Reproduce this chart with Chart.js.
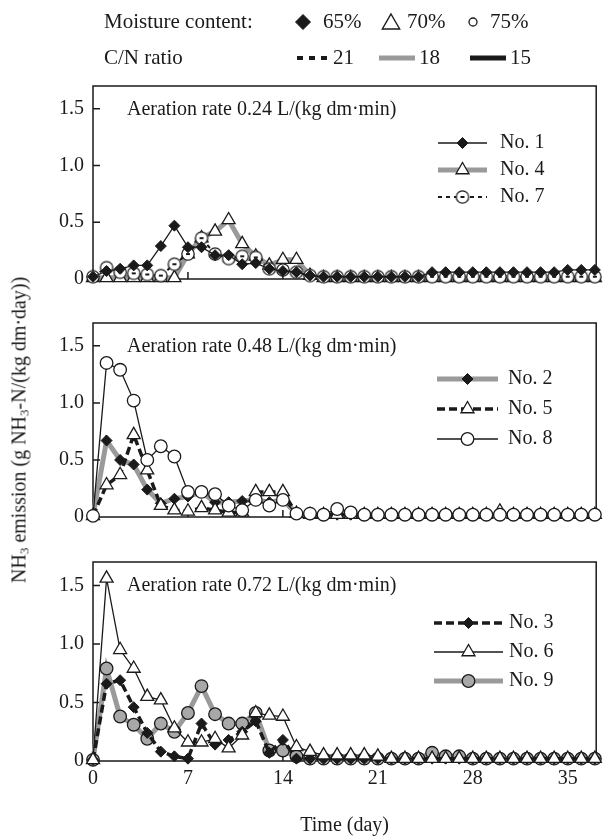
<!DOCTYPE html>
<html>
<head>
<meta charset="utf-8">
<title>NH3 emission</title>
<script src="https://cdn.jsdelivr.net/npm/chart.js@4.4.1/dist/chart.umd.min.js"></script>
<style>
  body { margin: 0; background: #fff; }
  #wrap { position: relative; width: 605px; height: 840px; overflow: hidden; }
  #wrap canvas { position: absolute; left: 0; }
  #ytitle {
    position: absolute; left: 20px; top: 430px;
    transform: translate(-50%, -50%) rotate(-90deg);
    white-space: nowrap;
    font: 20px "Liberation Serif", "Times New Roman", serif;
    color: #1a1a1a;
  }
  #ytitle sub { font-size: 13px; vertical-align: -3px; }
</style>
</head>
<body>
<div id="wrap">
  <canvas id="p1" width="605" height="300" style="top:0"></canvas>
  <canvas id="p2" width="605" height="240" style="top:300px"></canvas>
  <canvas id="p3" width="605" height="300" style="top:540px"></canvas>
  <div id="ytitle">NH<sub>3</sub> emission (g NH<sub>3</sub>-N/(kg dm·day))</div>
</div>
<script>
// days of composting (one reading per day)
const days = [0,1,2,3,4,5,6,7,8,9,10,11,12,13,14,15,16,17,18,19,
              20,21,22,23,24,25,26,27,28,29,30,31,32,33,34,35,36,37];

const xTicks = [0, 7, 14, 21, 28, 35];
const xTickLabels = ['0', '7', '14', '21', '28', '35'];
const yTicks = [0, 0.5, 1.0, 1.5];
const yTickLabels = ['0', '0.5', '1.0', '1.5'];

const panelTitles = [
  'Aeration rate 0.24 L/(kg dm·min)',
  'Aeration rate 0.48 L/(kg dm·min)',
  'Aeration rate 0.72 L/(kg dm·min)'
];

// aeration 0.24
const no1 = [0.02,0.07,0.09,0.12,0.12,0.29,0.47,0.28,0.28,0.21,0.21,0.13,0.14,0.09,0.07,0.06,0.03,
             0.02,0.02,0.02,0.02,0.02,0.02,0.02,0.02,
             0.06,0.06,0.06,0.06,0.06,0.06,0.06,0.06,0.06,0.06,0.08,0.08,0.08];
const no4 = [0.01,0.01,0.01,0.01,0.01,0.01,0.01,0.22,0.36,0.42,0.52,0.31,0.20,0.12,0.17,0.17,0.03,
             0.01,0.01,0.01,0.01,0.01,0.01,0.01,0.01,0.01,0.01,0.01,0.01,0.01,0.01,0.01,0.01,0.01,0.01,0.01,0.01,0.01];
const no7 = [0.02,0.10,0.06,0.05,0.04,0.03,0.13,0.22,0.36,0.22,0.18,0.20,0.19,0.09,0.08,0.06,0.03,
             0.02,0.02,0.02,0.02,0.02,0.02,0.02,0.02,0.02,0.02,0.02,0.02,0.02,0.02,0.02,0.02,0.02,0.02,0.02,0.02,0.02];

// aeration 0.48
const no2 = [0.01,0.67,0.50,0.46,0.24,0.12,0.16,0.18,0.22,0.13,0.13,0.14,0.15,0.13,0.15,0.03,
             0.02,0.02,0.02,0.02,0.02,0.02,0.02,0.02,0.02,0.02,0.02,0.02,0.02,0.02,0.02,0.02,0.02,0.02,0.02,0.02,0.02,0.02];
const no5 = [0.01,0.28,0.37,0.72,0.41,0.10,0.06,0.05,0.08,0.06,0.04,0.04,0.22,0.22,0.22,0.03,
             0.02,0.02,0.02,0.02,0.02,0.02,0.02,0.02,0.02,0.02,0.02,0.02,0.02,0.02,0.05,
             0.02,0.02,0.02,0.02,0.02,0.02,0.02];
const no8 = [0.01,1.35,1.29,1.02,0.50,0.62,0.53,0.22,0.22,0.20,0.10,0.06,0.15,0.10,0.15,0.03,0.03,0.02,0.07,0.04,
             0.02,0.02,0.02,0.02,0.02,0.02,0.02,0.02,0.02,0.02,0.02,0.02,0.02,0.02,0.02,0.02,0.02,0.02];

// aeration 0.72
const no3 = [0.01,0.66,0.69,0.46,0.24,0.08,0.04,0.02,0.32,0.14,0.18,0.25,0.34,0.07,0.18,0.02,
             0.02,0.02,0.02,0.02,0.02,0.02,0.02,0.02,0.02,0.02,0.02,0.02,0.02,0.02,0.02,0.02,0.02,0.02,0.02,0.02,0.02,0.02];
const no6 = [0.01,1.56,0.95,0.79,0.55,0.52,0.28,0.16,0.16,0.19,0.11,0.22,0.41,0.39,0.38,0.12,0.08,0.05,0.05,0.05,0.05,0.04,
             0.02,0.02,0.02,0.02,0.02,0.02,0.02,0.02,0.02,0.02,0.02,0.02,0.02,0.02,0.02,0.02];
const no9 = [0.01,0.79,0.38,0.31,0.19,0.32,0.25,0.41,0.64,0.40,0.32,0.32,0.41,0.09,0.09,0.04,
             0.02,0.02,0.02,0.02,0.02,0.02,0.02,0.02,0.02,0.07,0.04,0.04,
             0.02,0.02,0.02,0.02,0.02,0.02,0.02,0.02,0.02,0.02];

const SERIF = '"Liberation Serif", "Times New Roman", serif';
const INK = '#1a1a1a';
const GRAY = '#9a9a9a';

// circle with a little bar in the middle (No. 7)
function dotCircle() {
    const c = document.createElement('canvas');
    c.width = 16; c.height = 16;
    const g = c.getContext('2d');
    g.beginPath();
    g.arc(8, 8, 6.2, 0, Math.PI * 2);
    g.fillStyle = '#fff'; g.fill();
    g.lineWidth = 1.3; g.strokeStyle = INK; g.stroke();
    g.fillStyle = INK;
    g.fillRect(6, 7, 4, 2);
    return c;
}

const lines = {
    thin:     {borderColor: INK,  borderWidth: 1.3},
    gray:     {borderColor: GRAY, borderWidth: 5},
    dashBold: {borderColor: INK,  borderWidth: 3.5, borderDash: [8, 4]},
    dashThin: {borderColor: INK,  borderWidth: 2,   borderDash: [4, 4]}
};
const marks = {
    diamond:  {pointStyle: 'rectRot',  pointRadius: 5.5, pointBackgroundColor: INK,    pointBorderColor: INK, pointBorderWidth: 1},
    triangle: {pointStyle: 'triangle', pointRadius: 7.5, pointBackgroundColor: '#fff', pointBorderColor: INK, pointBorderWidth: 1.3},
    circle:   {pointStyle: 'circle',   pointRadius: 6.3, pointBackgroundColor: '#fff', pointBorderColor: INK, pointBorderWidth: 1.3},
    grayDot:  {pointStyle: 'circle',   pointRadius: 6.3, pointBackgroundColor: '#a8a8a8', pointBorderColor: INK, pointBorderWidth: 1.3},
    barDot:   {pointStyle: dotCircle(), pointRadius: 6.3, pointBackgroundColor: '#fff', pointBorderColor: INK, pointBorderWidth: 1.3}
};

function series(label, values, line, mark, order) {
    return Object.assign({
        label: label,
        order: order,
        data: values.map((v, i) => ({x: days[i], y: v})),
        tension: 0,
        clip: false
    }, line, mark);
}

function drawMarker(ctx, style, x, y, r, fill, stroke, lw) {
    if (typeof style !== 'string') {
        ctx.drawImage(style, x - style.width / 2, y - style.height / 2);
        return;
    }
    ctx.beginPath();
    if (style === 'rectRot') {
        ctx.moveTo(x, y - r); ctx.lineTo(x + r, y); ctx.lineTo(x, y + r); ctx.lineTo(x - r, y);
    } else if (style === 'triangle') {
        ctx.moveTo(x, y - r);
        ctx.lineTo(x + 0.866 * r, y + 0.5 * r);
        ctx.lineTo(x - 0.866 * r, y + 0.5 * r);
    } else {
        ctx.arc(x, y, r, 0, Math.PI * 2);
    }
    ctx.closePath();
    ctx.fillStyle = fill; ctx.fill();
    ctx.lineWidth = lw; ctx.strokeStyle = stroke; ctx.setLineDash([]); ctx.stroke();
}

// moisture content / C/N ratio key at the top of the figure
function drawHeader(ctx) {
    ctx.save();
    ctx.font = '21px ' + SERIF;
    ctx.textBaseline = 'middle';
    ctx.fillStyle = INK;
    const r1 = 22, r2 = 58;
    ctx.fillText('Moisture content:', 104, r1);
    drawMarker(ctx, 'rectRot', 303, r1, 7.5, INK, INK, 1);
    ctx.fillStyle = INK; ctx.fillText('65%', 323, r1);
    drawMarker(ctx, 'triangle', 391, r1 + 2, 10, '#fff', INK, 1.4);
    ctx.fillStyle = INK; ctx.fillText('70%', 407, r1);
    drawMarker(ctx, 'circle', 473, r1, 4, '#fff', INK, 1.3);
    ctx.fillStyle = INK; ctx.fillText('75%', 490, r1);

    ctx.fillText('C/N ratio', 104, r2);
    ctx.lineWidth = 4; ctx.strokeStyle = INK; ctx.setLineDash([6, 6]);
    ctx.beginPath(); ctx.moveTo(297, r2); ctx.lineTo(329, r2); ctx.stroke();
    ctx.setLineDash([]);
    ctx.fillText('21', 333, r2);
    ctx.lineWidth = 5; ctx.strokeStyle = GRAY;
    ctx.beginPath(); ctx.moveTo(379, r2); ctx.lineTo(415, r2); ctx.stroke();
    ctx.fillText('18', 419, r2);
    ctx.strokeStyle = INK;
    ctx.beginPath(); ctx.moveTo(470, r2); ctx.lineTo(506, r2); ctx.stroke();
    ctx.fillText('15', 510, r2);
    ctx.restore();
}

const panelDeco = {
    id: 'panelDeco',
    beforeDatasetsDraw(chart, args, opts) {
        const {ctx, chartArea: a, scales: {x, y}} = chart;
        ctx.save();
        ctx.strokeStyle = INK;
        ctx.lineWidth = 1.5;
        ctx.strokeRect(a.left, a.top, a.right - a.left, a.bottom - a.top);
        ctx.beginPath();
        yTicks.forEach(v => {
            const py = y.getPixelForValue(v);
            ctx.moveTo(a.left, py); ctx.lineTo(a.left + 7, py);
        });
        xTicks.forEach(v => {
            const px = x.getPixelForValue(v);
            ctx.moveTo(px, a.bottom); ctx.lineTo(px, a.bottom - 7);
        });
        ctx.stroke();
        ctx.restore();
    },
    afterDraw(chart, args, opts) {
        const {ctx, chartArea: a} = chart;
        ctx.save();
        ctx.font = '20px ' + SERIF;
        ctx.textBaseline = 'middle';
        ctx.fillStyle = INK;
        ctx.fillText(opts.title, 127, a.top + 24);
        chart.data.datasets.forEach((ds, i) => {
            const ly = a.top + opts.legendY + i * opts.legendDy;
            ctx.beginPath();
            ctx.strokeStyle = ds.borderColor;
            ctx.lineWidth = ds.borderWidth;
            ctx.setLineDash(ds.borderDash || []);
            ctx.moveTo(opts.lx0, ly); ctx.lineTo(opts.lx1, ly);
            ctx.stroke();
            ctx.setLineDash([]);
            drawMarker(ctx, ds.pointStyle, (opts.lx0 + opts.lx1) / 2, ly, ds.pointRadius,
                       ds.pointBackgroundColor, ds.pointBorderColor, ds.pointBorderWidth);
            ctx.fillStyle = INK;
            ctx.fillText(ds.label, opts.tx, ly);
        });
        if (opts.header) drawHeader(ctx);
        ctx.restore();
    }
};

function makePanel(id, datasets, deco, showX, pad) {
    return new Chart(document.getElementById(id), {
        type: 'line',
        data: {datasets: datasets},
        options: {
            responsive: false,
            animation: false,
            layout: {padding: pad},
            plugins: {
                legend: {display: false},
                tooltip: {enabled: false},
                panelDeco: deco
            },
            scales: {
                x: {
                    type: 'linear',
                    min: 0,
                    max: 37.1,
                    display: showX,
                    afterBuildTicks: s => { s.ticks = xTicks.map(v => ({value: v})); },
                    afterFit: s => { s.height = showX ? 79 : 0; },
                    grid: {display: false, drawTicks: false},
                    border: {display: false},
                    ticks: {
                        autoSkip: false, maxRotation: 0, padding: 6, color: INK,
                        font: {family: SERIF, size: 20},
                        callback: (v, i) => xTickLabels[i]
                    },
                    title: {
                        display: showX, text: 'Time (day)', color: INK,
                        font: {family: SERIF, size: 20},
                        padding: {top: 0, bottom: 2}
                    }
                },
                y: {
                    min: 0,
                    max: 1.7,
                    afterBuildTicks: s => { s.ticks = yTicks.map(v => ({value: v})); },
                    afterFit: s => { s.width = 93; },
                    grid: {display: false, drawTicks: false},
                    border: {display: false},
                    ticks: {
                        padding: 9, color: INK,
                        font: {family: SERIF, size: 20},
                        callback: (v, i) => yTickLabels[i]
                    }
                }
            }
        },
        plugins: [panelDeco]
    });
}

makePanel('p1', [
    series('No. 1', no1, lines.thin, marks.diamond, 0),
    series('No. 4', no4, lines.gray, marks.triangle, 2),
    series('No. 7', no7, lines.dashThin, marks.barDot, 1)
], {title: panelTitles[0], header: true, legendY: 57, legendDy: 27, lx0: 438, lx1: 487, tx: 500},
   false, {top: 86, right: 3, bottom: 18, left: 0});

makePanel('p2', [
    series('No. 2', no2, lines.gray, marks.diamond, 2),
    series('No. 5', no5, lines.dashBold, marks.triangle, 1),
    series('No. 8', no8, lines.thin, marks.circle, 0)
], {title: panelTitles[1], legendY: 56, legendDy: 30, lx0: 437, lx1: 498, tx: 508},
   false, {top: 23, right: 3, bottom: 23, left: 0});

makePanel('p3', [
    series('No. 3', no3, lines.dashBold, marks.diamond, 1),
    series('No. 6', no6, lines.thin, marks.triangle, 0),
    series('No. 9', no9, lines.gray, marks.grayDot, 2)
], {title: panelTitles[2], legendY: 61, legendDy: 29, lx0: 434, lx1: 503, tx: 509},
   true, {top: 22, right: 3, bottom: 0, left: 0});
</script>
</body>
</html>
